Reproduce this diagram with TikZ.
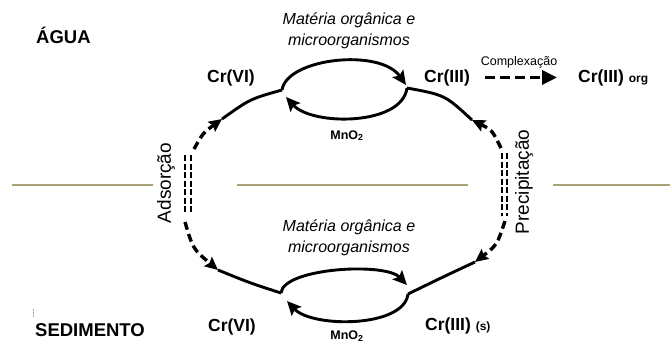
\documentclass[tikz,border=0pt]{standalone}
\usepackage{fontspec}
\setmainfont{Liberation Sans}
\usetikzlibrary{arrows.meta}
\definecolor{ground}{RGB}{168,162,118}
\begin{document}
\begin{tikzpicture}[x=1pt,y=-1pt,
  big/.style={inner sep=0pt, font=\fontsize{18.5}{22}\selectfont\bfseries},
  crlbl/.style={inner sep=0pt, font=\fontsize{17.5}{20}\selectfont\bfseries},
  small/.style={inner sep=0pt, font=\fontsize{12.5}{15}\selectfont\bfseries},
  ital/.style={inner sep=0pt, align=center, font=\fontsize{16}{21}\selectfont\itshape},
  side/.style={inner sep=0pt, rotate=90, font=\fontsize{19}{22}\selectfont},
  solid arrow/.style={line width=2.9pt, -{Stealth[length=14pt,width=13pt,inset=2.5pt]}},
  outer/.style={line width=2.9pt},
  dasharrow/.style={line width=3.4pt, dash pattern=on 8pt off 4.5pt, -{Stealth[length=13pt,width=12pt,inset=2pt]}},
  dbl/.style={line width=2.2pt, dash pattern=on 6pt off 2.5pt},
  groundline/.style={draw=ground, line width=2.5pt}]
\useasboundingbox (0,0) rectangle (670,343);

% ground line
\draw[groundline] (12,185) -- (153,185);
\draw[groundline] (237,185) -- (468,185);
\draw[groundline] (553,185) -- (670,185);
\draw[draw=ground, line width=1pt, dash pattern=on 1.5pt off 1.5pt] (33,309) -- (33,318);

% labels
\node[big, anchor=base west] (agua) at (36,43) {ÁGUA};
\node[big, anchor=base west] (sed) at (35,336) {SEDIMENTO};
\node[crlbl, anchor=base] (crvit) at (231,82) {Cr(VI)};
\node[crlbl, anchor=base] (criiit) at (447,82) {Cr(III)};
\node[crlbl, anchor=base west] (crorg) at (578,82) {Cr(III) {\fontsize{12}{14}\selectfont org}};
\node[crlbl, anchor=base] (crvib) at (232,331) {Cr(VI)};
\node[crlbl, anchor=base west] (crs) at (425,330) {Cr(III) {\fontsize{12}{14}\selectfont (s)}};
\node[inner sep=0pt, font=\fontsize{12.5}{15}\selectfont, anchor=base] (compl) at (519,65) {Complexação};
\node[small, anchor=base] (mnot) at (347,139) {MnO\textsubscript{2}};
\node[small, anchor=base] (mnob) at (347,339.5) {MnO\textsubscript{2}};
\node[ital] (matt) at (349,31) {Matéria orgânica e\\microorganismos};
\node[ital] (matb) at (349,238) {Matéria orgânica e\\microorganismos};
\node[side] (ads) at (166,183) {Adsorção};
\node[side] (prec) at (524,182) {Precipitação};

% junctions
\coordinate (jTL) at (282,90);
\coordinate (jTR) at (407,88);
\coordinate (jBL) at (281,293);
\coordinate (jBR) at (408,294);
\coordinate (aTL) at (222,119);
\coordinate (aBL) at (218,270);
\coordinate (aTR) at (472,120);
\coordinate (aBR) at (475,262);
\coordinate (dTL) at (194,149);
\coordinate (dBL) at (185,222);
\coordinate (dTR) at (501,148);
\coordinate (dBR) at (505,221);

% top loop
\draw[solid arrow] (jTL) .. controls (287,58) and (380,48) .. (406,85);
\draw[solid arrow] (jTR) .. controls (402,126) and (312,126) .. (286,97);
% bottom loop
\draw[solid arrow] (jBL) .. controls (283,268) and (385,262) .. (407,285);
\draw[solid arrow] (jBR) .. controls (404,328) and (312,328) .. (287,301);

% outer solid segments
\draw[outer] (aTL) .. controls (250,99) .. (jTL);
\draw[outer] (aBL) .. controls (250,283) .. (jBL);
\draw[outer] (aTR) .. controls (445,95) .. (jTR);
\draw[outer] (aBR) .. controls (445,276) .. (jBR);

% dashed arrows
\draw[dasharrow] (dTL) .. controls (203,133) .. (aTL);
\draw[dasharrow] (dBL) .. controls (193,249) .. (aBL);
\draw[dasharrow] (dTR) .. controls (492,130) .. (aTR);
\draw[dasharrow] (dBR) .. controls (497,245) .. (aBR);

% double dashed vertical lines
\coordinate (lA1) at (185,155); \coordinate (lA2) at (185,214);
\coordinate (lB1) at (191,155); \coordinate (lB2) at (191,214);
\coordinate (rA1) at (502,153); \coordinate (rA2) at (502,216);
\coordinate (rB1) at (507,153); \coordinate (rB2) at (507,216);
\draw[dbl] (lA1) -- (lA2);
\draw[dbl] (lB1) -- (lB2);
\draw[dbl] (rA1) -- (rA2);
\draw[dbl] (rB1) -- (rB2);

% complexation arrow
\draw[line width=3.5pt, dash pattern=on 10pt off 5pt, -{Triangle[length=15pt,width=14pt]}]
  ([xshift=15pt]criiit.east) -- ([xshift=-21pt]crorg.west);
\end{tikzpicture}
\end{document}
